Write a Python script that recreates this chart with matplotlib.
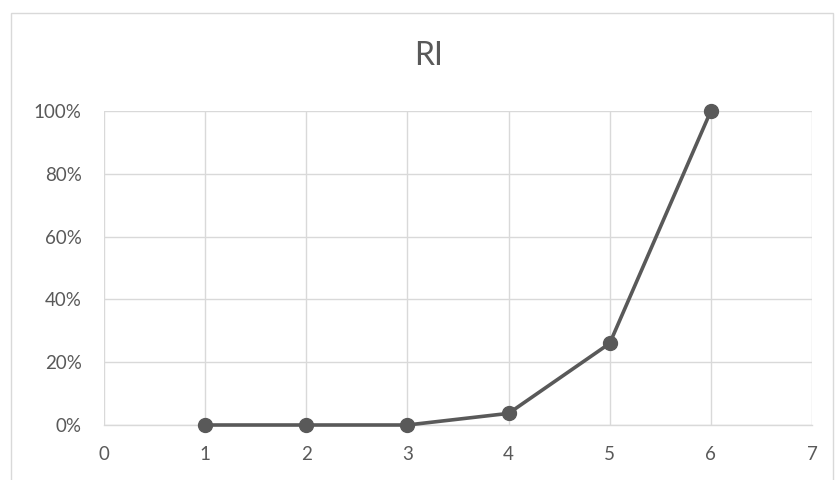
import matplotlib.pyplot as plt
from matplotlib.patches import Rectangle
from matplotlib.ticker import PercentFormatter

x = [1, 2, 3, 4, 5, 6]
ri = [0.0, 0.0, 0.0, 0.037, 0.26, 1.0]

xticks = [0, 1, 2, 3, 4, 5, 6, 7]
yticks = [0, 0.2, 0.4, 0.6, 0.8, 1.0]

plt.rcParams['font.family'] = ['Lato', 'DejaVu Sans']

fig = plt.figure(figsize=(8.35, 4.8), dpi=100)
ax = fig.add_axes([104/835, 55/480, 708/835, 314/480])

# chart frame
fig.patches.append(Rectangle((11/835, -0.05), 822/835, (480-13)/480 + 0.05,
                             transform=fig.transFigure, fill=False,
                             edgecolor='#d9d9d9', lw=1.0))

ax.plot(x, ri, color='#595959', lw=2.6, marker='o', markersize=10,
        solid_capstyle='round', zorder=3, clip_on=False)

ax.set_xlim(0, 7)
ax.set_ylim(0, 1.0)
ax.set_xticks(xticks)
ax.set_yticks(yticks)
ax.yaxis.set_major_formatter(PercentFormatter(1.0, decimals=0))
ax.grid(True, color='#d9d9d9', lw=1.0)
ax.set_axisbelow(True)
for s in ['top', 'right', 'left']:
    ax.spines[s].set_visible(False)
ax.spines['bottom'].set_color('#d9d9d9')
ax.spines['bottom'].set_linewidth(1.0)
ax.tick_params(length=0, labelsize=13.5, labelcolor='#595959')
ax.tick_params(axis='x', pad=15)
ax.tick_params(axis='y', pad=16)

fig.text(429/835, 1 - 56/480, 'RI', ha='center', va='center',
         fontsize=23, color='#595959')

fig.savefig('out.png', dpi=100)
